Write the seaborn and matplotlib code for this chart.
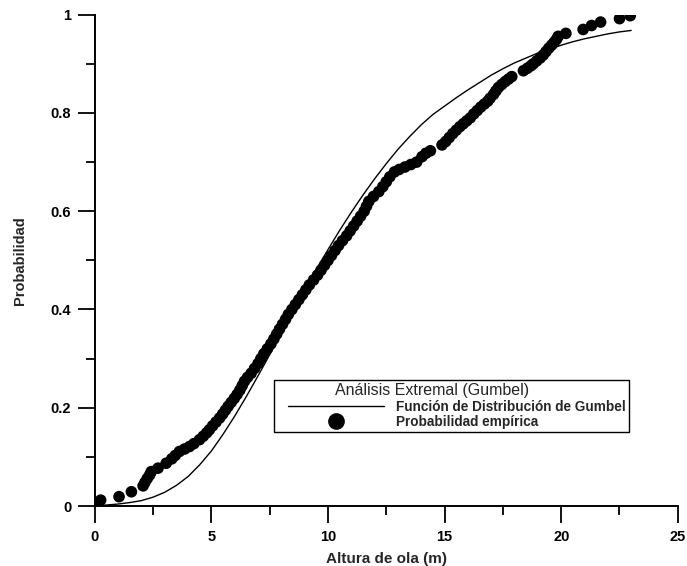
import numpy as np
import pandas as pd
import matplotlib
matplotlib.use("Agg")
import matplotlib.pyplot as plt
from matplotlib.ticker import MultipleLocator, FuncFormatter
from matplotlib.lines import Line2D
from matplotlib.legend_handler import HandlerLine2D
import seaborn as sns

# Fitted Gumbel distribution function (wave height in m, cumulative probability)
gumbel_x = [0, 0.5, 1, 1.5, 2, 2.5, 3, 3.5, 4, 4.5, 5, 5.5, 6, 6.5, 7, 7.5, 8, 8.5, 9, 9.5, 10,
            10.5, 11, 11.5, 12, 12.5, 13, 13.5, 14, 14.5, 15, 15.5, 16, 16.5, 17, 17.5, 18, 18.5,
            19, 19.5, 20, 20.5, 21, 21.5, 22, 22.5, 23]
gumbel_p = [0.001, 0.002, 0.004, 0.007, 0.011, 0.018, 0.028, 0.042, 0.060, 0.084, 0.112, 0.146,
            0.183, 0.223, 0.265, 0.308, 0.352, 0.396, 0.440, 0.482, 0.522, 0.561, 0.598, 0.633,
            0.666, 0.697, 0.726, 0.752, 0.776, 0.797, 0.814, 0.831, 0.847, 0.862, 0.877, 0.890,
            0.902, 0.912, 0.922, 0.930, 0.938, 0.945, 0.951, 0.956, 0.961, 0.965, 0.968]

# Empirical probability of the observed wave heights
emp_x = [0.05, 0.25, 1.04, 1.57, 2.07, 2.15, 2.25, 2.35, 2.42, 2.71, 3.06, 3.30, 3.45, 3.63, 3.85,
         4.06, 4.25, 4.49, 4.65, 4.80, 4.91, 5.05, 5.20, 5.35, 5.48, 5.60, 5.72, 5.85, 5.98, 6.10,
         6.22, 6.32, 6.42, 6.55, 6.70, 6.85, 7.00, 7.12, 7.25, 7.40, 7.55, 7.68, 7.80, 7.92, 8.05,
         8.18, 8.30, 8.45, 8.60, 8.75, 8.90, 9.05, 9.20, 9.38, 9.55, 9.70, 9.85, 10.00, 10.15, 10.30,
         10.45, 10.62, 10.80, 10.95, 11.10, 11.25, 11.40, 11.55, 11.65, 11.75, 11.95, 12.18, 12.35,
         12.50, 12.65, 12.85, 13.05, 13.30, 13.55, 13.80, 14.03, 14.20, 14.39, 14.89, 15.05, 15.20,
         15.35, 15.50, 15.65, 15.80, 15.95, 16.10, 16.25, 16.40, 16.55, 16.70, 16.85, 16.95, 17.10,
         17.20, 17.31, 17.45, 17.60, 17.74, 17.88, 18.38, 18.55, 18.70, 18.80, 18.95, 19.10, 19.23,
         19.35, 19.47, 19.59, 19.70, 19.80, 19.87, 20.20, 20.94, 21.30, 21.69, 22.50, 22.96]
emp_p = [0.004, 0.012, 0.019, 0.029, 0.041, 0.048, 0.056, 0.063, 0.070, 0.077, 0.087, 0.096, 0.103,
         0.111, 0.116, 0.121, 0.127, 0.135, 0.142, 0.149, 0.155, 0.163, 0.171, 0.179, 0.187, 0.195,
         0.203, 0.211, 0.219, 0.227, 0.236, 0.245, 0.254, 0.262, 0.270, 0.280, 0.290, 0.300, 0.310,
         0.320, 0.330, 0.340, 0.350, 0.360, 0.370, 0.380, 0.390, 0.400, 0.410, 0.420, 0.430, 0.440,
         0.450, 0.460, 0.470, 0.480, 0.490, 0.500, 0.510, 0.520, 0.530, 0.540, 0.550, 0.560, 0.570,
         0.580, 0.590, 0.600, 0.610, 0.620, 0.630, 0.640, 0.650, 0.660, 0.670, 0.680, 0.685, 0.690,
         0.695, 0.700, 0.711, 0.718, 0.723, 0.735, 0.742, 0.750, 0.758, 0.765, 0.772, 0.778, 0.784,
         0.790, 0.798, 0.805, 0.812, 0.818, 0.824, 0.830, 0.838, 0.845, 0.852, 0.858, 0.864, 0.869,
         0.874, 0.886, 0.891, 0.896, 0.900, 0.906, 0.912, 0.918, 0.925, 0.932, 0.938, 0.944, 0.950,
         0.956, 0.962, 0.970, 0.978, 0.985, 0.992, 0.998]

legend_title = "Análisis Extremal (Gumbel)"
curve_label = "Función de Distribución de Gumbel"
points_label = "Probabilidad empírica"

sns.set_theme(style="ticks")
plt.rcParams["font.family"] = ["Liberation Sans", "DejaVu Sans"]

fig = plt.figure(figsize=(6.87, 5.66), dpi=100)
ax = fig.add_axes([0.138, 0.106, 0.8486, 0.868])

curve_df = pd.DataFrame({"x": gumbel_x, "p": gumbel_p})
emp_df = pd.DataFrame({"x": emp_x, "p": emp_p})

sns.lineplot(data=curve_df, x="x", y="p", ax=ax, color="black", linewidth=1.0, zorder=2)
sns.scatterplot(data=emp_df, x="x", y="p", ax=ax, color="black", s=70, edgecolor="none",
                linewidth=0, zorder=3)

ax.set_xlim(0, 25)
ax.set_ylim(0, 1)
ax.xaxis.set_major_locator(MultipleLocator(5))
ax.xaxis.set_minor_locator(MultipleLocator(2.5))
ax.yaxis.set_major_locator(MultipleLocator(0.2))
ax.yaxis.set_minor_locator(MultipleLocator(0.1))
ax.yaxis.set_major_formatter(FuncFormatter(lambda v, _: f"{v:g}"))
ax.xaxis.set_major_formatter(FuncFormatter(lambda v, _: f"{v:g}"))

for side in ("top", "right"):
    ax.spines[side].set_visible(False)
for side in ("left", "bottom"):
    ax.spines[side].set_linewidth(1.4)
    ax.spines[side].set_color("black")

ax.tick_params(axis="both", which="major", direction="out", length=12, width=1.3,
               color="black", labelsize=10.5, pad=5, labelcolor="black")
ax.tick_params(axis="both", which="minor", direction="out", length=6.5, width=1.3, color="black")
for lbl in ax.get_xticklabels() + ax.get_yticklabels():
    lbl.set_fontweight("bold")

ax.set_xlabel("Altura de ola (m)", fontsize=11, fontweight="bold", labelpad=6)
ax.set_ylabel("Probabilidad", fontsize=10.5, fontweight="bold", labelpad=17)

handles = [
    Line2D([0], [0], color="black", linewidth=1.0),
    Line2D([0], [0], color="black", marker="o", linestyle="none", markersize=11),
]
leg = ax.legend(handles, [curve_label, points_label], title=legend_title + " " * 9,
                loc="lower left", bbox_to_anchor=(0.308, 0.15),
                prop={"weight": "bold", "size": 9.8},
                title_fontproperties={"size": 11.5},
                handler_map={Line2D: HandlerLine2D(xpad=0.75)},
                frameon=True, fancybox=False, edgecolor="black", framealpha=1,
                handlelength=7.8, handletextpad=0.9, labelspacing=0.1,
                borderpad=0.25, borderaxespad=0)
leg.get_frame().set_linewidth(1.0)

fig.savefig("out.png", dpi=100, facecolor="white")
